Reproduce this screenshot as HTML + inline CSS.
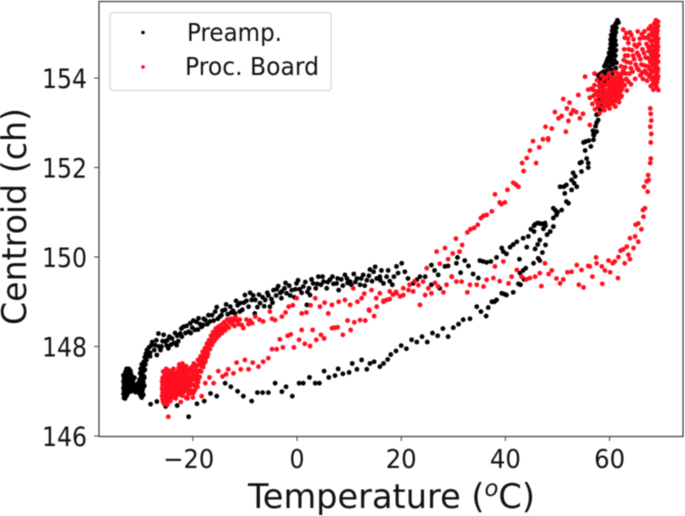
<!DOCTYPE html>
<html>
<head>
<meta charset="utf-8">
<title>Centroid vs Temperature</title>
<style>
html,body{margin:0;padding:0;background:#fff;width:685px;height:516px;overflow:hidden}
svg{display:block;filter:blur(.6px)}
text{font-family:"DejaVu Sans","Liberation Sans",sans-serif;fill:#111}
</style>
</head>
<body>
<svg id="chart" width="685" height="516" viewBox="0 0 685 516" xmlns="http://www.w3.org/2000/svg">
  <g id="marks"></g>
  <rect x="99" y="1.5" width="584" height="435" fill="none" stroke="#444" stroke-width="1.3"/>
  <g id="ticks"></g>
  <text x="248" y="508" font-size="34" textLength="287" lengthAdjust="spacingAndGlyphs">Temperature (<tspan font-style="italic" font-size="23" dy="-12">o</tspan><tspan dy="12">C)</tspan></text>
  <text transform="translate(26,325) rotate(-90)" font-size="34" textLength="217" lengthAdjust="spacingAndGlyphs">Centroid (ch)</text>
  <g>
    <rect x="110" y="12.5" width="221" height="78" rx="3" fill="#fff" fill-opacity=".85" stroke="#d5d5d5" stroke-width="1.2"/>
    <circle cx="143" cy="32.5" r="1.8" fill="#000"/>
    <text x="187" y="41" font-size="25" textLength="95" lengthAdjust="spacingAndGlyphs">Preamp.</text>
    <circle cx="143" cy="67" r="1.8" fill="#f01"/>
    <text x="185" y="75" font-size="25" textLength="134" lengthAdjust="spacingAndGlyphs">Proc. Board</text>
  </g>
</svg>
<script>
const xTickValues = [-20, 0, 20, 40, 60];
const yTickValues = [146, 148, 150, 152, 154];

const preampColdCluster = [[-33.2,146.85],[-33.2,147.0],[-33.2,147.15],[-33.2,147.3],[-33.1,146.92],[-33.1,147.08],[-33.1,147.22],[-33.0,147.38],[-33.0,146.84],[-32.9,147.02],[-32.9,147.16],[-32.9,147.28],[-32.9,147.44],[-32.7,146.9],[-32.7,147.1],[-32.7,147.34],[-32.7,147.5],[-32.6,147.0],[-32.6,147.2],[-32.5,146.95],[-32.5,147.42],[-32.4,147.12],[-32.4,147.3],[-32.3,147.5],[-32.2,147.04],[-32.2,147.2],[-32.2,147.38],[-32.0,147.1],[-32.0,147.28],[-32.0,147.46],[-31.8,147.0],[-31.8,147.16],[-31.7,147.34],[-31.5,147.06],[-31.5,147.22],[-31.3,147.1],[-31.2,147.3],[-31.0,146.98],[-31.0,147.14],[-30.8,147.0],[-30.6,147.04],[-30.5,147.18],[-30.3,146.96],[-30.2,147.1],[-30.2,147.26],[-30.1,147.4],[-30.0,146.9],[-30.0,147.04],[-30.0,147.5],[-29.9,147.18],[-29.9,147.32],[-29.8,146.86],[-29.8,147.6],[-29.7,147.0],[-29.7,147.12],[-29.6,147.26],[-29.6,147.44],[-29.5,146.92],[-29.5,147.54],[-29.4,147.34],[-29.4,147.66],[-29.3,147.12],[-29.2,147.48],[-29.2,147.76],[-29.1,147.6],[-29.0,147.84],[-28.9,147.7],[-28.8,147.92],[-28.6,147.8],[-28.4,147.98],[-28.2,147.86],[-28.0,148.02]];

const preampColdFill = [[-33.3,146.94],[-33.3,147.07],[-33.3,147.22],[-33.3,147.36],[-33.0,146.96],[-33.0,147.12],[-33.0,147.28],[-32.8,146.96],[-32.8,147.06],[-32.8,147.22],[-32.8,147.4],[-32.5,147.06],[-32.5,147.26],[-32.5,147.36],[-32.3,146.98],[-32.3,147.16],[-32.3,147.42],[-32.1,147.12],[-32.1,147.32],[-31.9,147.06],[-31.9,147.24],[-31.9,147.4],[-31.6,147.12],[-31.6,147.28],[-30.4,147.08],[-30.1,147.16],[-29.9,146.98],[-29.9,147.42],[-29.8,147.08],[-29.8,147.26],[-29.7,147.36],[-29.6,147.5],[-29.6,147.06],[-29.5,147.2],[-29.4,147.46],[-29.3,147.6],[-29.3,147.3],[-29.2,147.66]];

const preampUpperBranch = [[-27.4,147.92],[-27.2,148.03],[-26.9,147.81],[-26.6,148.29],[-26.5,148.0],[-26.0,148.0],[-25.8,148.12],[-25.3,148.11],[-25.0,148.02],[-24.7,147.96],[-24.5,148.22],[-24.0,148.18],[-23.6,148.08],[-23.1,148.03],[-23.0,148.24],[-22.4,148.29],[-22.1,148.22],[-21.8,148.44],[-21.4,148.3],[-20.8,148.33],[-20.5,148.52],[-20.1,148.42],[-19.6,148.37],[-19.3,148.55],[-18.9,148.63],[-18.6,148.5],[-18.3,148.44],[-17.9,148.62],[-17.6,148.59],[-17.2,148.5],[-16.7,148.56],[-16.3,148.7],[-15.7,148.78],[-15.2,148.62],[-14.8,148.67],[-14.3,148.8],[-13.8,148.82],[-13.3,148.72],[-12.8,148.89],[-12.3,148.8],[-11.9,148.74],[-11.4,148.92],[-10.9,148.97],[-10.5,148.82],[-10.0,149.15],[-9.7,149.02],[-9.3,148.89],[-8.7,149.04],[-8.4,149.14],[-8.1,148.74],[-7.6,148.88],[-7.1,148.97],[-6.6,149.1],[-6.1,149.04],[-5.7,149.2],[-5.2,148.89],[-4.9,149.06],[-4.5,149.26],[-4.0,149.14],[-3.6,149.35],[-3.2,149.2],[-2.9,149.23],[-2.4,149.3],[-2.0,149.19],[-1.5,149.36],[-1.0,149.26],[-0.5,149.1],[-0.1,149.41],[0.5,149.28],[1.2,149.34],[1.9,148.93],[2.0,149.22],[2.5,149.15],[3.1,149.41],[3.6,149.3],[4.1,149.56],[4.6,149.38],[5.1,149.45],[5.7,149.3],[6.3,149.49],[7.0,149.4],[7.6,149.41],[8.0,149.26],[8.5,149.5],[9.2,149.6],[9.7,149.42],[10.2,149.45],[10.9,149.62],[11.5,149.52],[12.1,149.38],[12.7,149.6],[13.4,149.48],[14.0,149.72],[14.7,149.67],[15.3,149.52],[15.9,149.56],[16.2,149.7],[16.6,149.41],[17.2,149.56],[17.8,149.46],[18.3,149.38],[19.1,149.79],[19.4,149.64],[20.1,149.86],[20.7,149.67],[21.3,149.52],[22.3,149.41],[23.0,149.49],[23.6,149.56],[24.6,149.56],[25.8,149.82],[25.8,149.38],[26.4,149.7],[27.1,149.6],[27.4,149.3],[28.4,149.79],[29.0,149.8],[29.7,149.56],[30.6,149.86],[30.8,149.99],[31.4,149.65],[32.2,149.92],[32.9,149.8],[33.8,149.62],[34.8,149.53],[35.1,149.92],[35.7,149.9],[36.4,149.88],[37.2,149.9],[38.3,149.99],[39.3,150.2],[39.6,150.12],[40.2,150.07],[40.9,150.22],[41.5,150.28],[42.2,150.34],[43.4,150.42],[44.4,150.46],[44.9,150.62],[45.5,150.7],[46.2,150.76],[47.0,150.74],[47.7,150.7]];

const preampUpperFill = [[-28.2,147.78],[-27.8,148.1],[-27.0,148.14],[-26.2,147.92],[-25.6,148.26],[-24.9,148.14],[-24.2,148.04],[-23.4,148.3],[-22.8,148.12],[-22.2,148.4],[-21.2,148.46],[-20.4,148.3],[-19.9,148.58],[-19.0,148.38],[-18.0,148.48],[-17.0,148.7],[-16.0,148.58],[-15.4,148.88],[-14.5,148.7],[-13.6,148.94],[-12.6,148.76],[-11.7,149.02],[-11.0,148.78],[-10.2,148.98],[-9.0,149.2],[-8.0,149.04],[-7.3,149.16],[-6.3,148.9],[-5.5,149.14],[-4.7,148.98],[-3.9,149.28],[-3.0,149.08],[-2.2,149.42],[-1.3,149.14],[-0.3,149.28],[0.2,149.48],[0.9,149.2],[1.6,149.44],[2.3,149.3],[2.8,149.5],[3.9,149.4],[4.9,149.56],[5.9,149.44],[6.8,149.56],[7.8,149.52],[8.8,149.36],[9.6,149.52],[10.4,149.38],[11.2,149.44],[12.3,149.52],[13.0,149.36],[13.8,149.58],[14.4,149.46],[15.0,149.78],[16.0,149.48],[17.5,149.7],[18.6,149.56]];

const preampLowerBranch = [[-28.1,146.71],[-26.9,146.77],[-25.2,146.66],[-23.0,146.68],[-20.8,146.43],[-19.2,146.72],[-17.8,146.78],[-16.6,146.95],[-15.4,146.89],[-13.8,147.18],[-12.7,147.1],[-11.4,147.0],[-10.3,146.89],[-8.7,146.78],[-7.6,146.97],[-6.6,146.97],[-5.5,146.97],[-4.2,147.18],[-2.9,146.99],[-2.1,147.1],[-0.9,146.89],[0.4,147.18],[1.2,147.18],[2.4,147.31],[3.5,147.18],[4.3,147.18],[5.2,147.45],[6.1,147.31],[7.3,147.35],[7.9,147.5],[8.8,147.39],[10.0,147.42],[10.6,147.62],[11.5,147.49],[12.4,147.7],[13.4,147.49],[14.0,147.62],[14.8,147.66],[15.9,147.55],[16.6,147.62],[17.4,147.71],[18.0,147.82],[19.0,147.9],[20.0,148.02],[21.0,147.95],[22.0,148.15],[23.0,148.1],[24.0,148.22],[25.0,148.1],[26.0,148.3],[27.0,148.24],[28.0,148.4],[29.0,148.22],[30.0,148.42],[31.0,148.5],[31.9,148.6],[33.2,148.62],[34.5,148.89],[35.3,148.78],[36.3,148.68],[36.7,148.87],[37.4,149.0],[37.9,149.0],[38.3,149.04],[39.3,149.19],[39.8,149.17],[40.2,149.15],[41.5,149.21],[42.5,149.4],[42.9,149.38],[43.6,149.5],[42.8,149.64],[43.4,149.7],[43.9,149.75],[45.4,149.86],[46.3,149.97],[46.6,149.92],[47.1,150.1],[47.7,150.27],[46.6,150.38],[45.7,150.18],[46.2,150.28],[44.1,150.22],[42.7,149.95],[48.6,150.57],[49.2,150.68],[47.3,150.63],[48.0,150.5],[45.5,150.57],[45.7,150.73],[46.6,150.75],[47.6,150.76],[49.2,150.87],[49.8,150.94],[50.8,151.05],[50.0,151.0],[49.2,151.09],[49.6,151.04],[52.1,151.2],[51.7,151.24],[51.4,151.42],[52.7,151.5],[50.5,151.57],[51.2,151.57],[51.7,151.61],[53.7,151.57],[53.2,151.65],[52.7,151.72],[53.4,151.8],[53.0,151.88],[54.6,151.91],[54.3,152.1],[54.6,152.12],[55.9,152.1],[55.6,152.2],[55.9,152.0],[55.3,152.38],[56.4,152.47],[55.0,152.56],[55.4,152.58],[56.0,152.6],[56.9,152.73],[57.5,152.8],[56.9,152.62]];

const preampHotColumn = [[56.8,152.82],[57.0,152.72],[57.3,152.92],[57.5,153.0],[57.8,153.06],[57.5,153.18],[57.9,153.2],[58.2,153.28],[57.9,153.36],[58.3,153.42],[58.0,153.5],[58.4,153.56],[58.5,153.68],[58.1,153.7],[58.7,153.8],[58.2,153.88],[57.8,153.96],[58.5,153.98],[58.9,153.92],[57.8,154.06],[58.3,154.1],[58.8,154.14],[59.2,154.06],[59.6,153.98],[59.4,154.16],[60.0,154.08],[59.0,154.26],[59.7,154.26],[60.2,154.2],[60.6,154.1],[59.4,154.36],[60.1,154.36],[60.6,154.3],[61.2,154.22],[59.8,154.46],[60.3,154.47],[60.9,154.4],[61.3,154.34],[59.9,154.56],[60.5,154.58],[61.1,154.5],[60.1,154.66],[60.7,154.68],[61.2,154.62],[60.2,154.76],[60.6,154.78],[61.2,154.74],[60.2,154.86],[60.7,154.88],[61.1,154.84],[60.3,154.96],[60.7,155.0],[61.0,154.94],[60.5,155.06],[60.9,155.08],[61.2,155.02],[60.9,155.16],[61.3,155.12],[61.2,155.22],[61.5,155.29],[61.7,155.24],[60.0,154.42],[60.4,154.52],[60.8,154.55],[60.4,154.7],[60.9,154.72],[60.4,154.82],[60.9,154.94],[60.5,154.9],[60.8,155.02],[60.6,155.14],[61.1,155.18],[60.5,154.3],[61.0,154.18],[59.6,154.42],[59.2,154.3]];

const boardColdCluster = [[-25.8,146.82],[-25.8,146.98],[-25.8,147.14],[-25.8,147.3],[-25.7,147.44],[-25.6,146.9],[-25.6,147.06],[-25.6,147.22],[-25.5,146.72],[-25.4,147.36],[-25.3,146.84],[-25.3,147.0],[-25.3,147.14],[-25.2,147.28],[-25.1,147.5],[-25.0,146.78],[-25.0,146.94],[-25.0,147.08],[-25.0,147.22],[-24.8,147.38],[-24.7,146.43],[-24.7,146.86],[-24.7,147.02],[-24.7,147.16],[-24.5,147.3],[-24.5,147.46],[-24.4,146.94],[-24.4,147.1],[-24.3,146.78],[-24.2,147.24],[-24.1,147.38],[-24.0,146.86],[-24.0,147.02],[-24.0,147.16],[-23.8,147.32],[-23.7,147.5],[-23.6,146.94],[-23.6,147.1],[-23.5,147.24],[-23.3,146.84],[-23.3,147.4],[-23.2,147.02],[-23.2,147.16],[-23.0,147.3],[-22.9,146.92],[-22.9,147.08],[-22.8,147.46],[-22.6,147.22],[-22.6,147.6],[-22.5,146.96],[-22.5,147.12],[-22.4,147.36],[-22.2,147.52],[-22.1,146.9],[-22.1,147.04],[-22.0,147.2],[-22.0,147.62],[-21.8,147.34],[-21.7,147.46],[-21.6,147.0],[-21.6,147.14],[-21.5,147.26],[-21.3,146.86],[-21.3,147.56],[-21.2,147.4],[-21.1,147.06],[-21.0,147.2],[-20.9,147.5],[-20.8,146.94],[-20.7,147.32],[-20.6,147.12],[-20.5,147.44],[-20.3,147.02],[-20.3,147.24],[-20.2,147.54],[-20.0,146.86],[-20.0,147.36],[-19.9,147.14],[-19.8,147.62],[-19.6,147.02],[-19.6,147.26],[-19.5,147.46],[-19.3,147.16],[-19.2,147.36],[-19.1,147.58],[-19.0,147.7],[-18.9,147.28],[-18.7,147.46],[-18.6,147.62],[-18.5,147.78],[-18.3,147.56],[-18.2,147.7],[-18.1,147.88],[-17.9,147.62],[-17.8,147.8],[-17.7,147.96],[-17.5,147.74],[-17.4,147.9],[-17.3,148.06],[-17.1,147.84],[-17.0,148.0],[-16.9,148.14],[-16.7,147.94],[-16.6,148.08],[-16.5,148.24],[-16.3,148.04],[-16.2,148.18],[-16.1,148.32],[-15.9,148.12],[-15.8,148.26],[-15.6,148.4],[-15.5,148.18],[-15.3,148.32],[-15.1,148.44],[-15.0,148.24],[-14.8,148.36],[-14.6,148.48],[-14.4,148.3],[-14.2,148.42],[-14.0,148.54],[-13.8,148.36],[-13.6,148.48],[-13.4,148.6],[-13.1,148.42],[-12.9,148.54],[-12.6,148.62],[-12.2,148.59],[-12.0,148.46],[-11.6,148.58]];

const boardColdFill = [[-25.9,146.9],[-25.9,147.06],[-25.9,147.22],[-25.7,146.76],[-25.5,146.98],[-25.5,147.14],[-25.5,147.3],[-25.2,146.9],[-25.2,147.06],[-25.2,147.2],[-25.2,147.4],[-24.9,146.7],[-24.9,147.0],[-24.9,147.12],[-24.9,147.28],[-24.6,146.92],[-24.6,147.08],[-24.6,147.22],[-24.6,147.38],[-24.3,146.9],[-24.3,147.04],[-24.3,147.18],[-24.3,147.32],[-24.3,147.44],[-23.9,146.94],[-23.9,147.1],[-23.9,147.24],[-23.9,147.4],[-23.5,146.98],[-23.5,147.16],[-23.5,147.34],[-23.1,146.96],[-23.1,147.1],[-23.1,147.24],[-23.1,147.4],[-22.7,147.02],[-22.7,147.16],[-22.7,147.3],[-22.7,147.52],[-22.3,147.0],[-22.3,147.14],[-22.3,147.28],[-22.3,147.44],[-21.9,146.96],[-21.9,147.1],[-21.9,147.26],[-21.9,147.42],[-21.9,147.54],[-21.4,147.06],[-21.4,147.2],[-21.4,147.34],[-21.4,147.48],[-20.9,147.02],[-20.9,147.14],[-20.9,147.28],[-20.9,147.42],[-20.4,146.96],[-20.4,147.16],[-20.4,147.32],[-20.4,147.5],[-19.9,146.96],[-19.9,147.26],[-19.9,147.44],[-19.4,147.1],[-19.4,147.32],[-19.4,147.54],[-19.0,147.2],[-19.0,147.44],[-18.7,147.32],[-18.4,147.44],[-18.4,147.66],[-18.0,147.54],[-18.0,147.76],[-17.6,147.66],[-17.6,147.88],[-17.2,147.78],[-17.2,148.0],[-16.8,148.06],[-16.4,148.14],[-16.0,148.22],[-15.7,148.32],[-15.2,148.38],[-14.7,148.42],[-14.1,148.36],[-13.5,148.42],[-13.0,148.6],[-12.4,148.5],[-11.8,148.66],[-11.0,148.6],[-10.6,148.48],[-9.7,148.6],[-9.0,148.58]];

const boardReturnBranch = [[-22.3,146.76],[-21.0,146.84],[-19.1,147.1],[-18.3,146.89],[-17.6,147.18],[-16.8,147.31],[-16.0,147.18],[-15.1,147.45],[-14.3,147.33],[-13.6,147.38],[-13.2,147.49],[-12.2,147.4],[-11.6,147.64],[-10.8,147.49],[-10.0,147.7],[-9.3,147.49],[-8.5,147.64],[-7.4,147.55],[-6.5,147.66],[-5.5,147.74],[-4.8,147.94],[-3.9,147.94],[-3.3,148.16],[-2.7,147.98],[-1.8,148.24],[-1.2,148.27],[-0.6,147.98],[0.4,148.15],[0.9,148.37],[1.5,148.06],[2.5,148.01],[3.0,148.37],[3.7,148.15],[4.6,148.26],[5.2,148.18],[6.7,148.41],[7.2,148.42],[7.8,148.43],[8.8,148.26],[9.7,148.58],[10.3,148.37],[11.0,148.54],[12.1,148.59],[13.1,148.58],[13.9,148.8],[14.8,148.68],[15.3,148.89],[16.6,149.0],[17.8,149.06],[19.0,149.22],[20.4,149.3],[21.6,149.38],[22.6,149.46],[24.9,149.75],[26.8,150.12],[27.4,149.85],[28.4,150.2],[29.0,149.95],[29.9,150.08],[30.5,150.41],[31.2,150.12],[31.7,150.27],[32.7,150.55],[33.3,150.62],[34.0,150.65],[34.7,150.72],[35.3,150.87],[35.8,150.92],[36.4,150.94],[37.4,151.02],[38.0,151.4],[38.9,151.22],[39.2,151.18],[39.9,151.22],[40.4,151.5],[41.5,151.66],[42.0,151.62],[42.5,151.57],[43.5,151.92],[43.2,152.1],[44.1,152.21],[44.7,152.38],[45.3,152.59],[45.9,152.1],[46.5,152.45],[47.2,152.63],[48.2,152.62],[47.7,152.91],[48.9,152.87],[48.2,152.65],[49.5,153.24],[50.2,153.1],[50.8,153.15],[51.1,153.53],[51.6,152.8],[51.8,153.32],[52.1,153.04],[52.3,153.45],[52.6,153.2],[53.0,153.28],[53.6,153.24],[54.0,153.62],[54.3,153.1],[54.9,153.2],[55.3,154.03],[55.9,153.74],[56.2,152.95],[57.1,154.1]];

const boardHotCluster = [[56.2,153.56],[56.5,153.76],[56.7,153.42],[56.9,153.6],[57.1,153.84],[57.2,153.3],[57.4,153.5],[57.5,153.7],[57.6,153.95],[57.8,153.38],[57.9,153.58],[58.0,153.82],[58.1,153.22],[58.2,153.46],[58.3,153.66],[58.4,153.9],[58.5,154.06],[58.6,153.34],[58.7,153.54],[58.8,153.74],[58.9,153.98],[59.0,153.28],[59.1,153.46],[59.2,153.64],[59.3,153.84],[59.4,154.02],[59.5,153.38],[59.6,153.56],[59.7,153.74],[59.8,153.92],[59.9,154.1],[60.0,153.32],[60.1,153.5],[60.2,153.68],[60.3,153.86],[60.4,154.02],[60.6,153.42],[60.7,153.6],[60.8,153.78],[60.9,153.96],[61.0,154.14],[61.1,153.36],[61.3,153.54],[61.4,153.72],[61.5,153.9],[61.6,154.1],[61.8,153.46],[61.9,153.64],[62.0,153.82],[62.1,154.02],[62.2,154.26],[62.3,153.6],[62.4,153.76],[62.5,153.94],[62.6,154.16],[62.7,154.4],[62.8,154.64],[62.9,154.9],[62.6,155.08],[63.2,155.0],[63.0,154.24],[63.2,153.98],[63.3,153.72],[63.5,154.5],[63.6,154.78],[63.9,155.02],[63.8,154.1],[64.0,154.34],[64.1,153.86],[64.3,154.62],[64.6,154.86],[64.4,154.14],[64.7,154.42],[64.9,153.98],[65.2,154.7],[65.4,155.04],[65.3,154.22],[65.6,154.5],[65.8,154.88],[65.9,154.06],[66.1,154.3],[66.3,154.64],[66.4,153.98],[66.6,154.9],[66.7,155.04],[66.8,154.16],[66.9,154.46],[67.1,154.76],[67.2,153.94],[67.3,154.26],[67.5,155.1],[67.5,154.6],[67.6,154.04],[67.7,154.86],[67.8,154.36],[67.9,155.16],[67.9,153.82],[68.0,154.12],[68.0,154.52],[68.1,154.72],[68.1,154.98],[68.2,154.28],[68.2,153.96],[68.3,155.1],[68.3,154.6],[68.4,153.74],[68.4,154.4],[68.5,154.84],[68.5,154.16],[68.6,155.22],[68.6,154.02],[68.6,154.5],[68.7,154.7],[68.7,153.88],[68.8,154.32],[68.8,155.04],[68.9,155.29],[68.9,154.58],[68.9,154.12],[69.0,153.8],[69.0,154.9],[69.0,154.44],[69.1,155.14],[69.1,154.22],[69.1,154.76],[69.2,153.98],[69.2,154.62],[69.3,155.26],[69.3,154.36],[69.3,154.04],[69.3,154.88],[69.35,153.73]];

const boardHotFill = [[56.8,153.74],[57.3,153.64],[57.7,153.44],[58.1,153.6],[58.2,153.76],[58.6,153.46],[58.6,153.62],[58.9,153.84],[59.0,153.56],[59.2,153.38],[59.4,153.72],[59.5,153.54],[59.6,153.9],[59.8,153.46],[59.9,153.66],[60.1,153.82],[60.2,153.42],[60.3,153.58],[60.4,153.76],[60.5,153.94],[60.7,153.5],[60.8,153.68],[60.9,153.86],[61.0,153.48],[61.2,153.64],[61.3,153.82],[61.3,154.02],[61.6,153.58],[61.7,153.78],[61.8,153.96],[62.0,153.56],[62.2,153.72],[62.3,153.9],[62.4,154.1],[62.9,153.84],[63.0,154.5],[63.1,154.1],[63.3,154.36],[63.5,154.88],[63.6,153.92],[63.7,154.64],[64.1,154.22],[64.2,154.96],[64.5,154.5],[64.8,154.74],[65.0,154.3],[65.3,154.56],[65.6,154.18],[65.7,154.76],[65.9,154.42],[66.2,154.98],[66.3,154.12],[66.6,154.56],[66.7,154.28],[67.0,154.9],[67.1,154.1],[67.4,154.7],[67.4,154.44],[67.6,154.96],[67.7,154.2],[67.9,154.62],[67.9,154.02],[68.0,154.82],[68.1,154.42],[68.2,155.04],[68.2,154.14],[68.3,154.5],[68.3,153.86],[68.4,154.72],[68.4,154.94],[68.5,154.3],[68.5,153.94],[68.6,154.62],[68.6,155.1],[68.7,154.2],[68.7,154.42],[68.8,154.82],[68.8,153.98],[68.9,154.34],[68.9,154.7],[68.9,155.18],[69.0,154.06],[69.0,154.26],[69.0,154.54],[69.1,154.98],[69.1,153.9],[69.1,154.4],[69.2,154.14],[69.2,154.8],[69.2,155.06],[69.3,154.5],[69.3,154.7],[69.3,155.16],[69.3,154.2]];

const boardWarmingBranch = [[-12.2,148.59],[-11.2,148.5],[-10.3,148.41],[-9.3,148.5],[-8.6,148.52],[-8.0,148.67],[-7.2,148.6],[-6.5,148.56],[-5.2,148.78],[-4.8,148.62],[-4.2,148.59],[-2.9,148.67],[-2.2,148.76],[-1.6,148.89],[-0.8,148.92],[-0.05,149.08],[0.9,148.74],[1.8,148.76],[2.6,148.92],[3.5,149.08],[4.4,148.89],[5.3,148.98],[6.0,148.74],[6.7,148.93],[8.0,149.0],[9.2,149.04],[10.2,148.93],[10.8,149.3],[11.6,149.0],[12.4,149.08],[12.9,149.18],[13.8,148.82],[14.3,149.26],[15.2,149.08],[15.9,149.19],[16.6,149.02],[17.2,149.04],[17.8,149.23],[18.4,149.16],[19.1,149.19],[19.8,149.12],[20.4,149.15],[21.4,149.26],[22.3,149.23],[23.3,149.37],[23.6,148.93],[24.2,149.45],[24.6,149.15],[25.2,149.3],[25.8,149.19],[26.5,149.42],[27.1,149.34],[28.1,149.21],[28.7,149.38],[29.7,149.56],[30.6,149.45],[31.6,149.45],[32.7,149.21],[33.2,149.38],[34.5,149.38],[35.8,149.34],[36.4,149.49],[37.7,149.53],[38.0,149.79],[38.9,149.46],[39.6,149.9],[40.6,149.41],[41.2,149.56],[42.2,149.71],[43.1,149.56],[44.0,149.5],[44.7,149.53],[45.7,149.56],[46.6,149.64],[46.9,149.35],[47.6,149.86],[48.3,149.62],[48.9,149.7],[49.8,149.52],[50.5,149.41],[51.1,149.5],[51.9,149.66],[52.7,149.67],[53.7,149.82],[54.1,149.38],[54.6,149.71],[55.0,149.32],[55.9,149.8],[56.2,149.79],[56.7,149.56],[57.4,149.99],[57.5,149.86],[58.5,149.79],[58.6,149.4],[59.1,149.7],[59.8,149.92],[60.1,149.66],[60.6,149.86],[61.0,149.9],[61.6,149.53],[61.7,150.0],[62.1,150.14],[62.6,150.17],[62.9,149.86],[63.3,150.23],[63.6,150.05],[63.9,149.95],[63.9,150.42],[64.6,150.2],[64.9,150.46],[65.0,150.72],[65.5,150.34],[65.5,150.75],[66.1,150.62],[66.5,150.9],[66.8,151.09],[66.4,151.05],[67.3,151.46],[66.6,151.57],[67.1,151.69],[67.4,151.83],[67.5,151.72],[67.8,152.1],[67.9,152.2],[67.9,152.56],[68.0,152.75],[67.8,152.91],[68.0,153.05],[67.9,153.2],[67.8,153.32]];

const xScale = t => 297 + t * 5.21;
const yScale = c => 78 + (154 - c) * 44.75;
const NS = 'http://www.w3.org/2000/svg';
const marks = document.getElementById('marks');
const ticks = document.getElementById('ticks');

function drawPreampPoints(points) {
  points.forEach(p => {
    const el = document.createElementNS(NS, 'circle');
    el.setAttribute('cx', xScale(p[0]));
    el.setAttribute('cy', yScale(p[1]));
    el.setAttribute('r', 2.4);
    el.setAttribute('fill', '#000');
    
    
    marks.appendChild(el);
  });
}
function drawBoardPoints(points) {
  points.forEach(p => {
    const el = document.createElementNS(NS, 'circle');
    el.setAttribute('cx', xScale(p[0]));
    el.setAttribute('cy', yScale(p[1]));
    el.setAttribute('r', 2.4);
    el.setAttribute('fill', '#ff0f1f');
    
    
    marks.appendChild(el);
  });
}
drawPreampPoints(preampColdCluster);
drawPreampPoints(preampColdFill);
drawPreampPoints(preampUpperBranch);
drawPreampPoints(preampUpperFill);
drawPreampPoints(preampLowerBranch);
drawPreampPoints(preampHotColumn);
drawBoardPoints(boardColdCluster);
drawBoardPoints(boardColdFill);
drawBoardPoints(boardReturnBranch);
drawBoardPoints(boardWarmingBranch);
drawBoardPoints(boardHotCluster);
drawBoardPoints(boardHotFill);

xTickValues.forEach(v => {
  const line = document.createElementNS(NS, 'line');
  line.setAttribute('x1', xScale(v));
  line.setAttribute('x2', xScale(v));
  line.setAttribute('y1', 436.5);
  line.setAttribute('y2', 441);
  line.setAttribute('stroke', '#444');
  
  
  ticks.appendChild(line);
  const label = document.createElementNS(NS, 'text');
  label.setAttribute('x', xScale(v) - (v < 0 ? 4 : 0));
  label.setAttribute('y', 468);
  label.setAttribute('text-anchor', 'middle');
  label.setAttribute('font-size', '26');
  label.setAttribute('textLength', v < 0 ? 51 : (v === 0 ? 15 : 31));
  label.setAttribute('lengthAdjust', 'spacingAndGlyphs');
  
  
  label.textContent = v < 0 ? '\u2212' + Math.abs(v) : String(v);
  ticks.appendChild(label);
});
yTickValues.forEach(v => {
  const line = document.createElementNS(NS, 'line');
  line.setAttribute('x1', 94);
  line.setAttribute('x2', 99);
  line.setAttribute('y1', yScale(v));
  line.setAttribute('y2', yScale(v));
  line.setAttribute('stroke', '#444');
  
  
  ticks.appendChild(line);
  const label = document.createElementNS(NS, 'text');
  label.setAttribute('x', 87);
  label.setAttribute('y', yScale(v) + 10);
  label.setAttribute('text-anchor', 'end');
  label.setAttribute('font-size', '27');
  label.setAttribute('textLength', 45);
  label.setAttribute('lengthAdjust', 'spacingAndGlyphs');
  
  
  label.textContent = String(v);
  ticks.appendChild(label);
});
</script>
</body>
</html>
